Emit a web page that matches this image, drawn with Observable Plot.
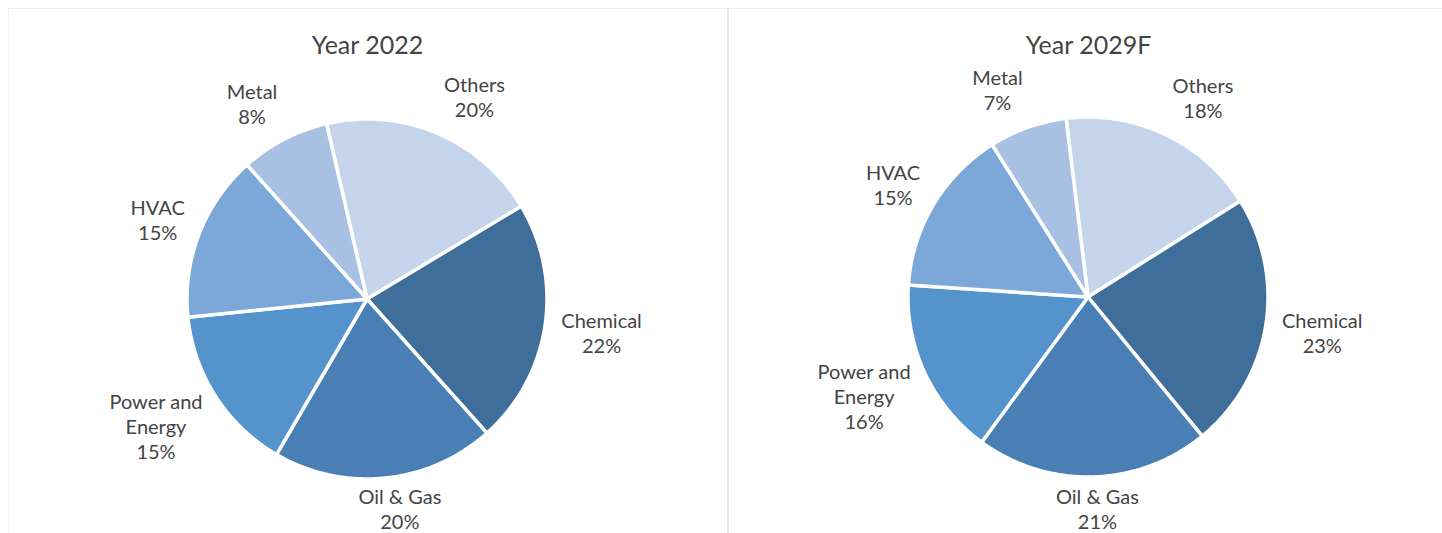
<!DOCTYPE html>
<html>
<head>
<meta charset="utf-8">
<script src="https://cdn.jsdelivr.net/npm/d3@7"></script>
<script src="https://cdn.jsdelivr.net/npm/@observablehq/plot@0.6"></script>
<style>
  html, body { margin: 0; padding: 0; background: #fff; }
  #wrap { position: relative; width: 1442px; height: 533px; overflow: hidden; font-family: Lato, "Open Sans", sans-serif; }
  .panel { position: absolute; top: 0; }
  .rule-h { position: absolute; left: 8px; top: 8px; width: 1434px; height: 1px; background: #ebebeb; }
  .rule-v { position: absolute; top: 8px; width: 2px; height: 525px; background: #e6e6e6; }
</style>
</head>
<body>
<div id="wrap">
  <div class="rule-h"></div>
  <div class="rule-v" style="left:8px;width:1px;background:#f0f0f0"></div>
  <div class="rule-v" style="left:727px"></div>
</div>
<script>
// ---- data ----
const categories = ["Others", "Chemical", "Oil & Gas", "Power and Energy", "HVAC", "Metal"];
const labelText = ["Others", "Chemical", "Oil & Gas", "Power and\nEnergy", "HVAC", "Metal"];
const share2022 = [20, 22, 20, 15, 15, 8];
const share2029 = [18, 23, 21, 16, 15, 7];
const titles = ["Year 2022", "Year 2029F"];
const sliceColors = ["#c4d5eb", "#3f6e9b", "#4a7fb6", "#5593cc", "#7ba8d9", "#a8c1e3"];

// ---- layout ----
const H = 533;
const R = 180; // pie radius in px
const panels = [
  {left: 0, width: 734, cy: 299, start: -13, values: share2022, title: titles[0]},
  {left: 734, width: 708, cy: 297, start: -7, values: share2029, title: titles[1]}
];

const wrap = document.getElementById("wrap");
const FONT = "Lato, 'Open Sans', sans-serif";
const fs = 20, lh = 25;
const ctx = document.createElement("canvas").getContext("2d");
ctx.font = `${fs}px Lato, 'Open Sans', sans-serif`;
const textWidth = s => ctx.measureText(s).width;

for (const p of panels) {
  const rows = categories.map((c, i) => ({name: c, label: labelText[i], value: p.values[i]}));
  const pie = d3.pie().sort(null).value(d => d.value)
    .startAngle(p.start * Math.PI / 180)
    .endAngle((p.start + 360) * Math.PI / 180);
  const arcs = pie(rows);

  // arc outline points (unit radius, y up)
  const pts = [];
  for (const a of arcs) {
    const n = Math.max(2, Math.ceil((a.endAngle - a.startAngle) / (Math.PI / 180)));
    for (let k = 0; k <= n; k++) {
      const t = a.startAngle + (a.endAngle - a.startAngle) * k / n;
      pts.push({name: a.data.name, x: Math.sin(t), y: Math.cos(t)});
    }
  }

  // labels: box placed just outside the pie at the slice's mid angle, kept inside the frame
  const labs = arcs.map(a => {
    const m = (a.startAngle + a.endAngle) / 2;
    const ux = Math.sin(m), uy = Math.cos(m);
    const lines = a.data.label.split("\n");
    const nl = lines.length + 1;
    const w = d3.max(lines, textWidth);
    const h = nl * lh;
    const ar = R + 16;
    let x = ux * ar + Math.sign(ux) * (w / 2) * Math.min(1, 3 * Math.abs(ux));
    let y = uy * ar + uy * h / 2;
    const minY = -(H - p.cy - nl * lh / 2);
    if (y < minY) y = minY;
    return {text: a.data.label + "\n" + a.data.value + "%", x: x / R, y: y / R};
  });

  const cx = p.width / 2;
  const chart = Plot.plot({
    width: p.width,
    height: H,
    margin: 0,
    x: {domain: [-cx / R, (p.width - cx) / R], axis: null},
    y: {domain: [-(H - p.cy) / R, p.cy / R], axis: null},
    color: {domain: categories, range: sliceColors},
    style: {background: "transparent", overflow: "visible"},
    marks: [
      Plot.area(pts, {x1: "x", y1: "y", x2: () => 0, y2: () => 0, z: "name", fill: "name",
        stroke: "white", strokeWidth: 3.5, strokeLinejoin: "round", curve: "linear"}),
      Plot.text(labs, {x: "x", y: "y", text: "text", fontSize: fs, lineHeight: lh / fs,
        fill: "#444", fontFamily: FONT}),
      Plot.text([p.title], {frameAnchor: "top", lineAnchor: "middle", dy: 45, fontSize: 25,
        fill: "#444", fontFamily: FONT})
    ]
  });
  const div = document.createElement("div");
  div.className = "panel";
  div.style.left = p.left + "px";
  div.appendChild(chart);
  wrap.appendChild(div);
}
</script>
</body>
</html>
